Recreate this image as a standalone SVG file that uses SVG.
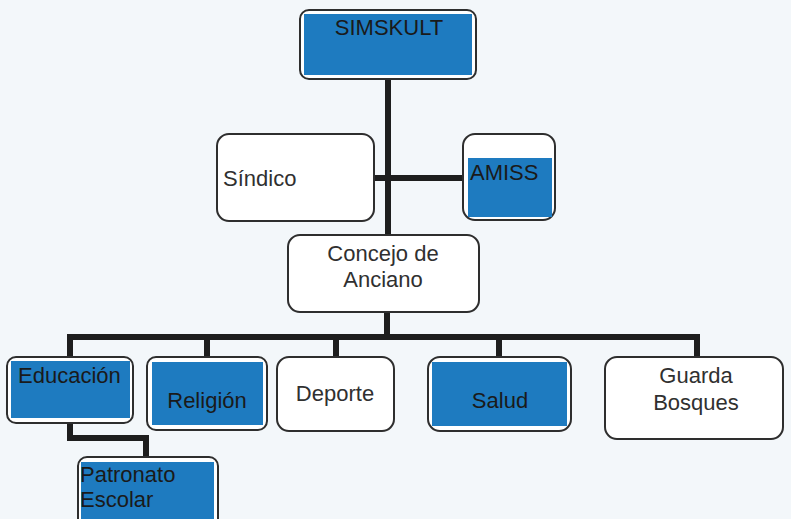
<svg xmlns="http://www.w3.org/2000/svg" width="791" height="519" viewBox="0 0 791 519">
<style>
.box{fill:#ffffff;stroke:#2e2e2e;stroke-width:2}
.blue{fill:#1e7bc0}
.lbl{font-family:"Liberation Sans",Arial,sans-serif;font-size:22px;fill:#303030}
.dk{fill:#1a1a1a}
.mid{text-anchor:middle}
.conn{fill:none;stroke:#1e1e1e;stroke-width:6;stroke-linejoin:miter}
</style>
<rect width="791" height="519" fill="#f3f7fa"/>
<g id="connectors">
<path class="conn" d="M388,79 V236"/>
<path class="conn" d="M374,178 H463"/>
<path class="conn" d="M387,312 V337"/>
<path class="conn" d="M70,358 V337 H697 V357"/>
<path class="conn" d="M207,337 V357"/>
<path class="conn" d="M336,337 V357"/>
<path class="conn" d="M499,337 V357"/>
<path class="conn" d="M70,423 V438 H146 V457"/>
</g>
<g id="simskult">
<rect class="box" x="300" y="10" width="176" height="69" rx="9"/>
<rect class="blue" x="304" y="14" width="168" height="61"/>
<text class="lbl dk mid" x="389" y="35">SIMSKULT</text>
</g>
<g id="sindico">
<rect class="box" x="217" y="134" width="157" height="87" rx="12"/>
<text class="lbl" x="223" y="186">Síndico</text>
</g>
<g id="amiss">
<rect class="box" x="463" y="134" width="92" height="86" rx="12"/>
<rect class="blue" x="468" y="158" width="84" height="59"/>
<text class="lbl dk" x="470" y="180">AMISS</text>
</g>
<g id="concejo">
<rect class="box" x="288" y="235" width="191" height="77" rx="12"/>
<text class="lbl mid" x="383" y="261">Concejo de</text>
<text class="lbl mid" x="383" y="287">Anciano</text>
</g>
<g id="educacion">
<rect class="box" x="7" y="357" width="126" height="66" rx="9"/>
<rect class="blue" x="11" y="361" width="119" height="57"/>
<text class="lbl dk" x="18" y="383">Educación</text>
</g>
<g id="religion">
<rect class="box" x="147" y="357" width="120" height="73" rx="9"/>
<rect class="blue" x="152" y="362" width="111" height="63"/>
<text class="lbl dk mid" x="207" y="408">Religión</text>
</g>
<g id="deporte">
<rect class="box" x="277" y="357" width="117" height="74" rx="12"/>
<text class="lbl mid" x="335" y="401">Deporte</text>
</g>
<g id="salud">
<rect class="box" x="428" y="357" width="143" height="74" rx="12"/>
<rect class="blue" x="432" y="362" width="135" height="64"/>
<text class="lbl dk mid" x="500" y="408">Salud</text>
</g>
<g id="guarda">
<rect class="box" x="605" y="357" width="178" height="82" rx="12"/>
<text class="lbl mid" x="696" y="383">Guarda</text>
<text class="lbl mid" x="696" y="410">Bosques</text>
</g>
<g id="patronato">
<rect class="box" x="78" y="457" width="140" height="72" rx="9"/>
<rect class="blue" x="81" y="462" width="133" height="60"/>
<text class="lbl dk" x="80" y="482">Patronato</text>
<text class="lbl dk" x="80" y="507">Escolar</text>
</g>
</svg>
